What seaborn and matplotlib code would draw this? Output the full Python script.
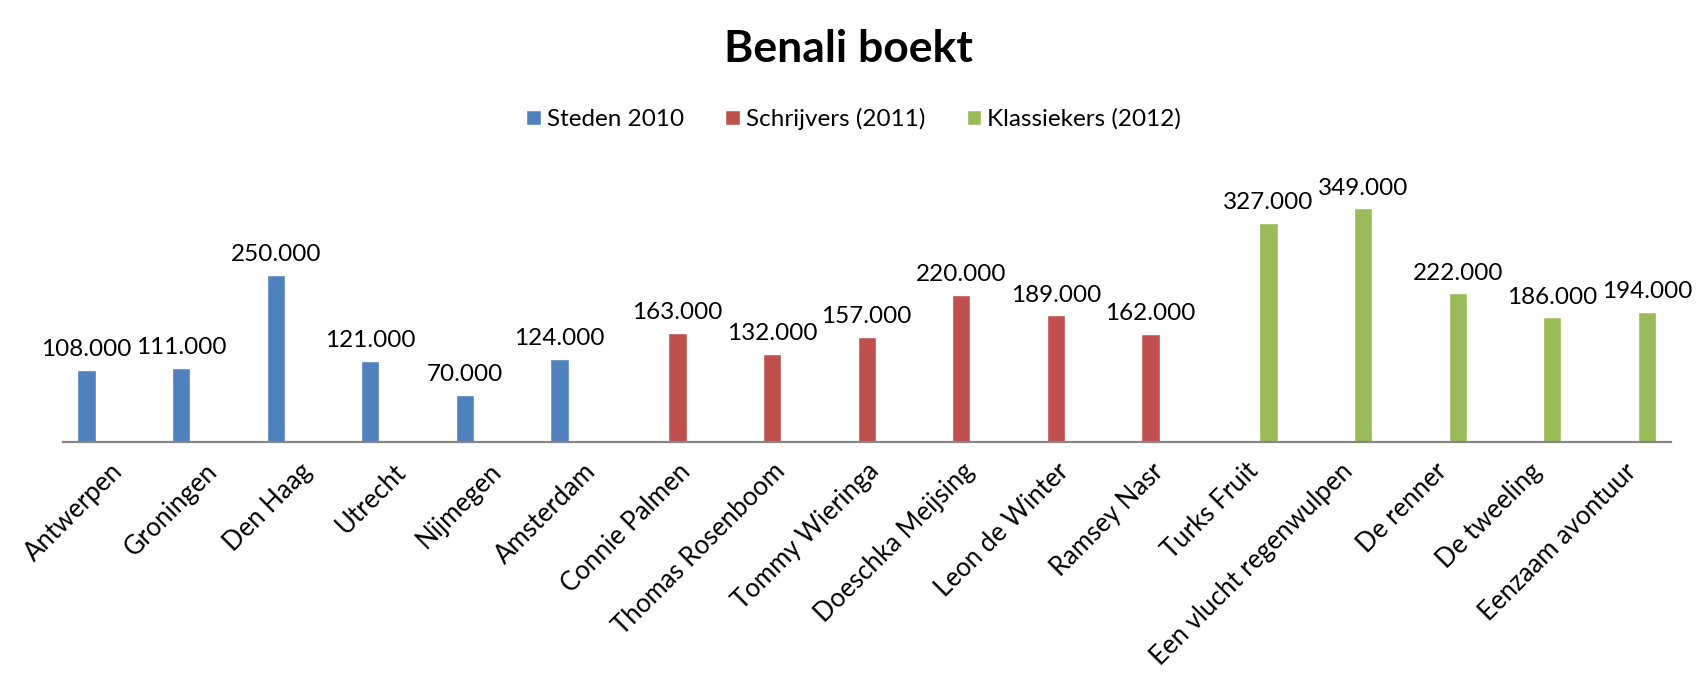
import numpy as np
import pandas as pd
import matplotlib

matplotlib.use("Agg")
import matplotlib.pyplot as plt
import seaborn as sns

# ----------------------------
# data

steden = ['Antwerpen', 'Groningen', 'Den Haag', 'Utrecht', 'Nijmegen', 'Amsterdam']
steden_val = [108000, 111000, 250000, 121000, 70000, 124000]

schrijvers = ['Connie Palmen', 'Thomas Rosenboom', 'Tommy Wieringa', 'Doeschka Meijsing',
              'Leon de Winter', 'Ramsey Nasr']
schrijvers_val = [163000, 132000, 157000, 220000, 189000, 162000]

klassiekers = ['Turks Fruit', 'Een vlucht regenwulpen', 'De renner', 'De tweeling', 'Eenzaam avontuur']
klassiekers_val = [327000, 349000, 222000, 186000, 194000]

series = ['Steden 2010', 'Schrijvers (2011)', 'Klassiekers (2012)']
colours = ['#4F81BD', '#C0504D', '#9BBB59']

df = pd.DataFrame({
    'naam': steden + schrijvers + klassiekers,
    'boeken': steden_val + schrijvers_val + klassiekers_val,
    'reeks': [series[0]] * len(steden) + [series[1]] * len(schrijvers) + [series[2]] * len(klassiekers),
})

# ----------------------------
# plot

sns.set_style('white')
plt.rcParams['font.family'] = ['Lato', 'DejaVu Sans']
plt.rcParams['text.color'] = 'black'
plt.rcParams['xtick.color'] = 'black'

fig = plt.figure(figsize=(16.97, 6.83), dpi=100)
ax = fig.add_axes([0.03695, 0.35286, 0.94756, 0.39209])

sns.barplot(data=df, x='naam', y='boeken', hue='reeks', hue_order=series,
            order=list(df['naam']), palette=colours, width=0.745, gap=0.22,
            dodge=True, saturation=1, ax=ax, legend=True)

for cont in ax.containers:
    ax.bar_label(cont, fmt=lambda v: f"{v:,.0f}".replace(",", "."), padding=7,
                 fontsize=17.5, color='black')

ax.set_ylim(0, 400000)
ax.set_xlim(-0.5, len(df) - 0.5)
ax.set_xlabel('')
ax.set_ylabel('')
ax.set_yticks([])
ax.tick_params(axis='x', length=0, pad=12, labelsize=18.5, labelcolor='black')
for lab in ax.get_xticklabels():
    lab.set_rotation(45)
    lab.set_ha('right')
    lab.set_rotation_mode('anchor')

sns.despine(ax=ax, left=True)
ax.spines['bottom'].set_color('#868686')
ax.spines['bottom'].set_linewidth(1.6)

sns.move_legend(ax, 'center', bbox_to_anchor=(0.503, 0.826), bbox_transform=fig.transFigure,
                ncol=3, frameon=False, title=None, fontsize=17.5, handlelength=0.6,
                handleheight=0.6, handletextpad=0.25, columnspacing=1.7, labelcolor='black')

fig.text(0.5, 0.928, 'Benali boekt', ha='center', va='center', fontsize=32,
         fontweight='bold', color='black')

fig.savefig('out.png', dpi=100)
